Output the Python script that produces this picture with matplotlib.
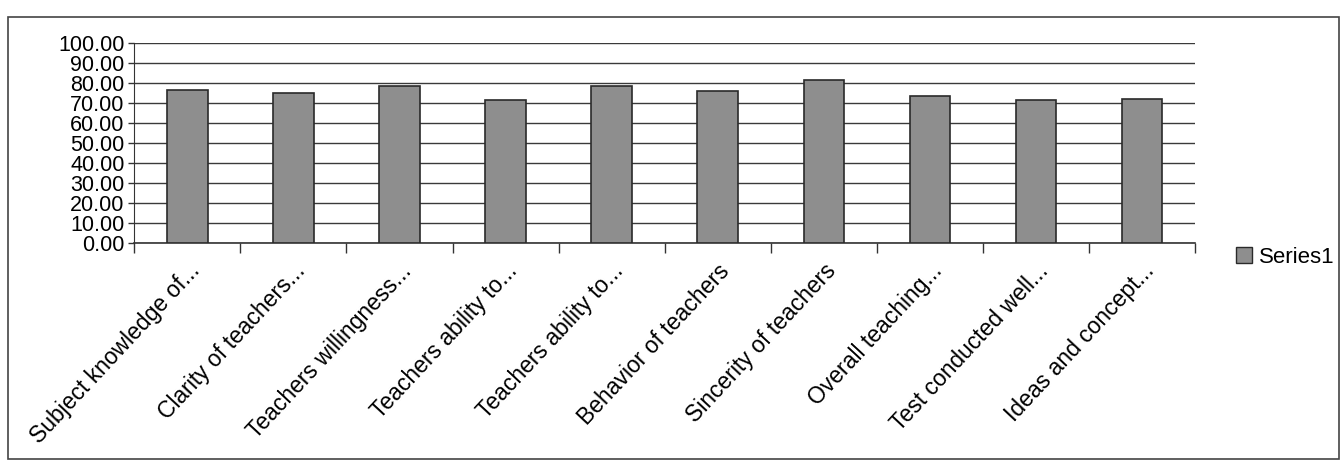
import matplotlib
matplotlib.use("Agg")
import matplotlib.pyplot as plt
from matplotlib.patches import Rectangle

categories = [
    "Subject knowledge of...",
    "Clarity of teachers...",
    "Teachers willingness...",
    "Teachers ability to...",
    "Teachers ability to...",
    "Behavior of teachers",
    "Sincerity of teachers",
    "Overall teaching...",
    "Test conducted well...",
    "Ideas and concept...",
]
series1 = [76.2, 74.9, 78.3, 71.2, 78.6, 76.0, 81.5, 73.3, 71.2, 71.7]
yticks = [0, 10, 20, 30, 40, 50, 60, 70, 80, 90, 100]
series_name = "Series1"

plt.rcParams['font.family'] = ['Liberation Sans', 'DejaVu Sans']

fig = plt.figure(figsize=(13.44, 4.76), dpi=100)
ax = fig.add_axes([0.100, 0.49, 0.789, 0.42])

x = list(range(len(categories)))
ax.bar(x, series1, width=0.38, color='#8e8e8e', edgecolor='#2a2a2a',
       linewidth=1.2, zorder=3, label=series_name)

ax.set_ylim(0, 100)
ax.set_xlim(-0.5, len(categories) - 0.5)
ax.set_yticks(yticks)
ax.set_yticklabels([f"{v:.2f}" for v in yticks], fontsize=15.5)
ax.yaxis.grid(True, color='#3a3a3a', linewidth=1.0, zorder=0)
ax.tick_params(axis='y', length=4, width=1, pad=3, color='#333333')

# category ticks between bars
ax.set_xticks([i + 0.5 for i in range(-1, len(categories))], minor=False)
ax.set_xticklabels([])
ax.tick_params(axis='x', which='major', length=7, width=1, color='#333333', direction='out')
ax.set_xticks(x, minor=True)
ax.set_xticklabels(categories, minor=True, rotation=47, ha='right',
                   rotation_mode='anchor', fontsize=16.5)
ax.tick_params(axis='x', which='minor', length=0, pad=12)

for s in ['top', 'right']:
    ax.spines[s].set_visible(False)
ax.spines['left'].set_color('#333333')
ax.spines['bottom'].set_color('#333333')
ax.spines['bottom'].set_linewidth(1.2)

# legend
fig.legend(handles=[Rectangle((0, 0), 1, 1, facecolor='#8e8e8e', edgecolor='#2a2a2a')],
           labels=[series_name], loc='center left', bbox_to_anchor=(0.905, 0.46),
           frameon=False, fontsize=16, handlelength=0.7, handleheight=0.7,
           handletextpad=0.3)

# chart area border
fig.patches.append(Rectangle((0.006, 0.035), 0.99, 0.93, transform=fig.transFigure,
                             fill=False, edgecolor='#444444', linewidth=1.2))

fig.savefig("out.png", dpi=100, facecolor='white')
